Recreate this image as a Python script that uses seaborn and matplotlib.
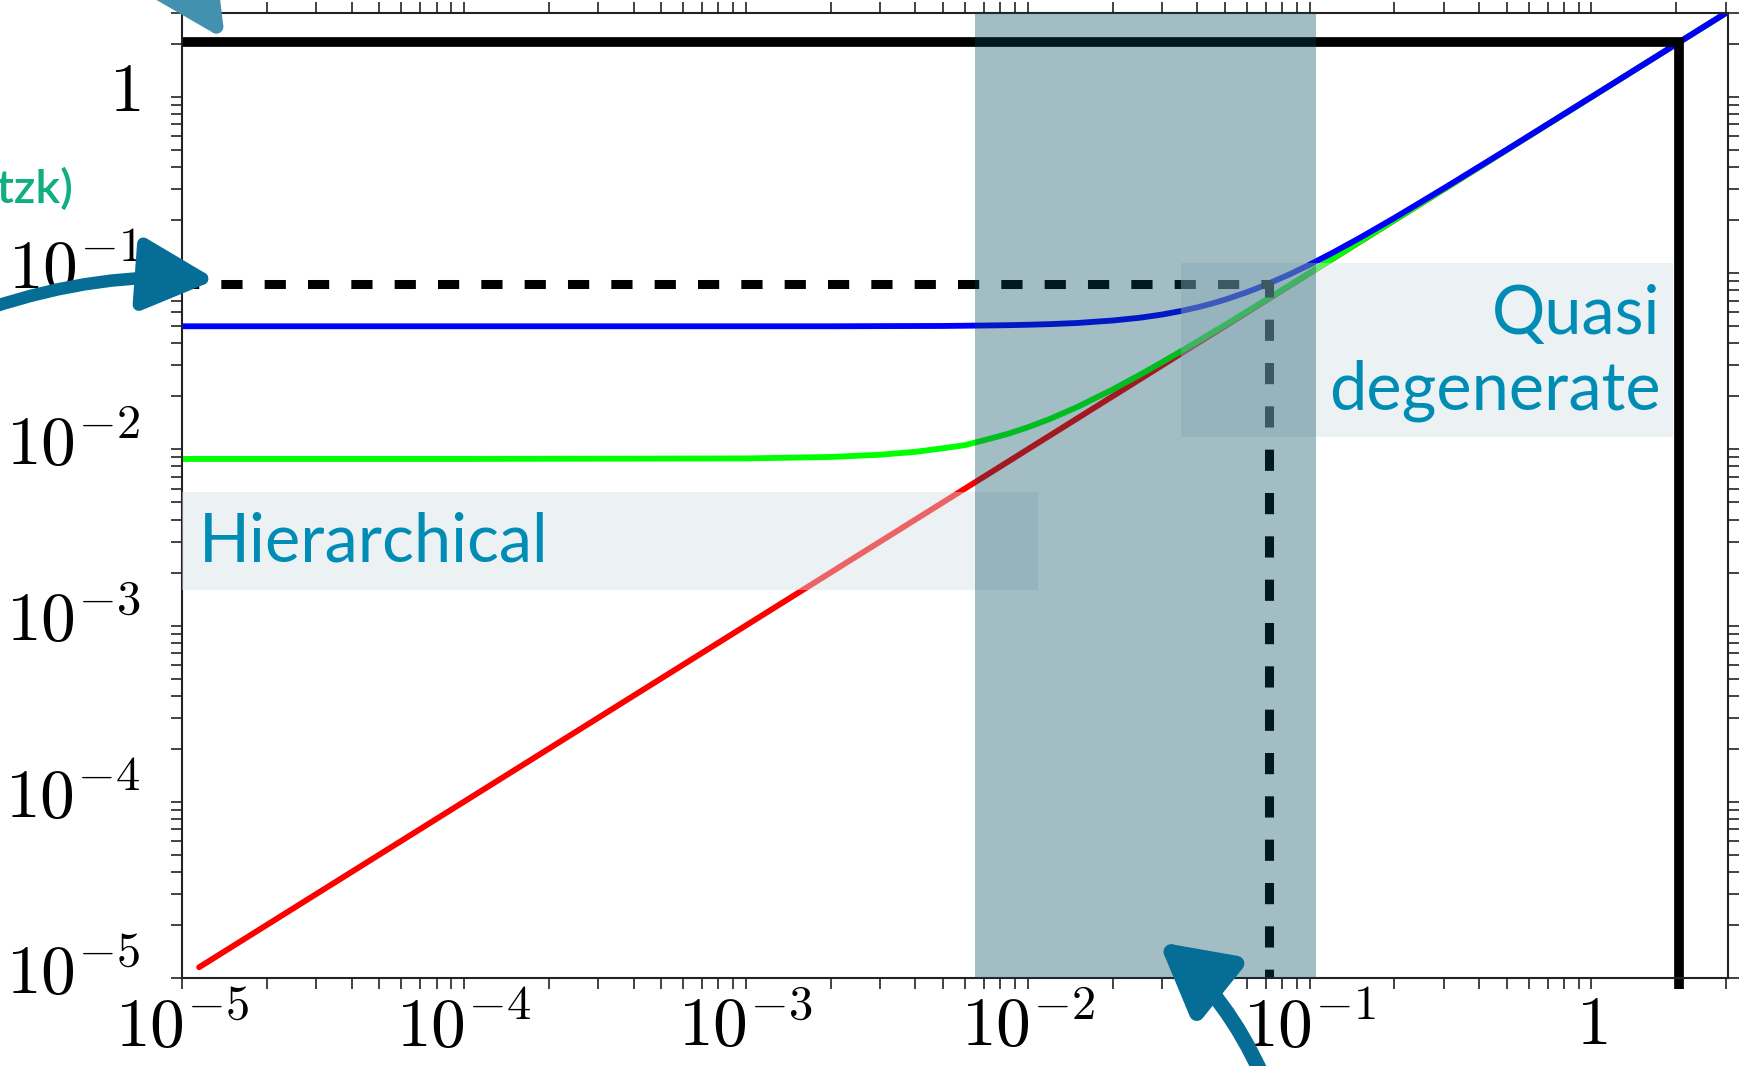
import matplotlib
matplotlib.use("Agg")
import matplotlib.pyplot as plt
import seaborn as sns
from matplotlib.patches import Rectangle
from matplotlib.transforms import ScaledTranslation
from matplotlib.ticker import LogLocator, NullFormatter, FixedLocator, FixedFormatter

# ---------------- data ----------------
m_lightest = [1e-5, 1e-4, 1e-3, 2e-3, 3e-3, 4e-3, 5e-3, 6e-3, 7e-3, 8.5e-3, 0.01,
              0.012, 0.015, 0.02, 0.025, 0.03, 0.035, 0.04, 0.045, 0.05, 0.06,
              0.07, 0.085, 0.1, 0.12, 0.15, 0.2, 0.3, 0.5, 1.0, 2.0, 3.0]
m3_blue = [0.0500, 0.0500, 0.0500, 0.0500, 0.0501, 0.05016, 0.0502, 0.05036, 0.0505,
           0.05072, 0.0510, 0.05142, 0.0522, 0.0539, 0.0559, 0.0583, 0.06103,
           0.06403, 0.06727, 0.0707, 0.0781, 0.0860, 0.09861, 0.1118, 0.1300,
           0.158, 0.206, 0.304, 0.502, 1.001, 2.0, 3.0]
m2_green = [0.00883, 0.00883, 0.00889, 0.00906, 0.00933, 0.00969, 0.01015, 0.01058,
            0.01127, 0.01225, 0.01334, 0.0149, 0.01741, 0.02186, 0.02651, 0.03127,
            0.0361, 0.04096, 0.04586, 0.05077, 0.06065, 0.07056, 0.08546, 0.1004,
            0.1203, 0.1503, 0.2002, 0.3001, 0.5001, 1.0, 2.0, 3.0]
m1_red_x = [1.15e-5, 1e-4, 1e-3, 1e-2, 1e-1, 1.0, 3.0]
m1_red_y = [1.15e-5, 1e-4, 1e-3, 1e-2, 1e-1, 1.0, 3.0]

cosmo_bound = 2.05            # thick black solid bound
beta_bound_y = 0.087          # dashed horizontal level
beta_bound_x = 0.072          # dashed vertical position
band_range = (0.0065, 0.105)  # shaded band
hier_box = (1e-5, 0.0109, 0.00159, 0.00574)     # x0, x1, y0, y1
quasi_box = (0.0349, 1.945, 0.0117, 0.1145)     # x0, x1, y0, y1

x_ticks = [1e-5, 1e-4, 1e-3, 1e-2, 1e-1, 1.0]
x_tick_labels = [r"$10^{-5}$", r"$10^{-4}$", r"$10^{-3}$", r"$10^{-2}$", r"$10^{-1}$", r"$1$"]
y_ticks = [1e-5, 1e-4, 1e-3, 1e-2, 1e-1, 1.0]
y_tick_labels = [r"$10^{-5}$", r"$10^{-4}$", r"$10^{-3}$", r"$10^{-2}$", r"$10^{-1}$", r"$1$"]
x_limits = (1e-5, 3.05)
y_limits = (1e-5, 3.0)

# ---------------- style ----------------
sns.set_theme(style="ticks")
plt.rcParams["font.family"] = ["Lato", "DejaVu Sans"]
plt.rcParams["mathtext.fontset"] = "cm"

fig = plt.figure(figsize=(17.5, 10.66), dpi=100)
ax = fig.add_axes([0.104, 0.0826, 0.8834, 0.9052])
ax.set_xscale("log")
ax.set_yscale("log")

# curves
sns.lineplot(x=m1_red_x, y=m1_red_y, ax=ax, color="#ff0000", lw=4.2,
             estimator=None, sort=False, zorder=2)
sns.lineplot(x=m_lightest, y=m2_green, ax=ax, color="#00ff00", lw=4.2,
             estimator=None, sort=False, zorder=2.1)
sns.lineplot(x=m_lightest, y=m3_blue, ax=ax, color="#0000ff", lw=4.2,
             estimator=None, sort=False, zorder=2.2)

# bounds
ax.plot([x_limits[0], cosmo_bound, cosmo_bound],
        [cosmo_bound, cosmo_bound, y_limits[0] * 0.87],
        color="black", lw=7.0, solid_capstyle="butt", solid_joinstyle="miter",
        zorder=2.3, clip_on=False)
ax.plot([x_limits[0], beta_bound_x, beta_bound_x],
        [beta_bound_y, beta_bound_y, y_limits[0]],
        color="black", lw=6.5, linestyle=(0.5, (2.35, 2.45)), dash_capstyle="butt",
        zorder=2.3)

# translucent label boxes (over the lines)
box_color = (214 / 255, 226 / 255, 230 / 255)
for (x0, x1, y0, y1) in (hier_box, quasi_box):
    ax.add_patch(Rectangle((x0, y0), x1 - x0, y1 - y0, facecolor=box_color,
                           alpha=0.443, lw=0, zorder=3))

# shaded band on top
ax.axvspan(band_range[0], band_range[1], color=(0, 72 / 255, 94 / 255),
           alpha=0.36, lw=0, zorder=4)

# region labels
label_color = "#008CB4"
ax.text(1.15e-5, 0.00298, "Hierarchical", color=label_color, fontsize=48,
        ha="left", va="center", zorder=5)
ax.text(1.76, 0.0352, "Quasi\ndegenerate", color=label_color, fontsize=48,
        ha="right", va="center", multialignment="right", linespacing=1.28, zorder=5)

# partial slide annotation at the left edge
fig.text(73 / 1750, (1066 - 203) / 1066, "(Mainz, Troitzk)", color="#12AD80",
         fontsize=34, fontweight="semibold", ha="right", va="baseline")

# arrows
arrow_dark = "#066E96"
ax.annotate("", xy=(1.32e-5, 0.092), xycoords="data",
            xytext=(-10, 758), textcoords="figure pixels",
            arrowprops=dict(arrowstyle="-|>,head_length=4.4,head_width=2.2",
                            mutation_scale=10, color=arrow_dark, lw=9,
                            connectionstyle="arc3,rad=-0.1",
                            shrinkA=0, shrinkB=0),
            annotation_clip=False, zorder=6)
ax.annotate("", xy=(0.0292, 1.6e-5), xycoords="data",
            xytext=(1262, -9), textcoords="figure pixels",
            arrowprops=dict(arrowstyle="-|>,head_length=4.2,head_width=2.3",
                            mutation_scale=10, color=arrow_dark, lw=11,
                            connectionstyle="arc3,rad=0.12",
                            shrinkA=0, shrinkB=0),
            annotation_clip=False, zorder=6)
ax.annotate("", xy=(1.42e-5, 2.12), xycoords="data",
            xytext=(100, 1216), textcoords="figure pixels",
            arrowprops=dict(arrowstyle="-|>,head_length=4.6,head_width=2.3",
                            mutation_scale=10, color="#4191AF", lw=10,
                            shrinkA=0, shrinkB=0),
            annotation_clip=False, zorder=6)

# axes, ticks
ax.set_xlim(*x_limits)
ax.set_ylim(*y_limits)
for axis, ticks, labels in ((ax.xaxis, x_ticks, x_tick_labels),
                            (ax.yaxis, y_ticks, y_tick_labels)):
    axis.set_major_locator(FixedLocator(ticks))
    axis.set_major_formatter(FixedFormatter(labels))
    axis.set_minor_locator(LogLocator(base=10, subs=range(2, 10), numticks=100))
    axis.set_minor_formatter(NullFormatter())

ax.tick_params(which="both", direction="out", length=8, width=1.2, color="#222222",
               top=True, right=True, bottom=True, left=True)
ax.tick_params(axis="x", which="major", labelsize=50, pad=3, labelcolor="black")
ax.tick_params(axis="y", which="major", labelsize=50, pad=22, labelcolor="black")
# y labels sit a little above their ticks in the reference
shift_up = ScaledTranslation(0, 8 / 72, fig.dpi_scale_trans)
for lab in ax.get_yticklabels():
    lab.set_transform(lab.get_transform() + shift_up)
for s in ax.spines.values():
    s.set_linewidth(1.5)
    s.set_color("#222222")
    s.set_visible(True)
ax.set_facecolor("white")
ax.grid(False)
if ax.get_legend() is not None:
    ax.get_legend().remove()

fig.savefig("out.png", dpi=100, facecolor="white")
